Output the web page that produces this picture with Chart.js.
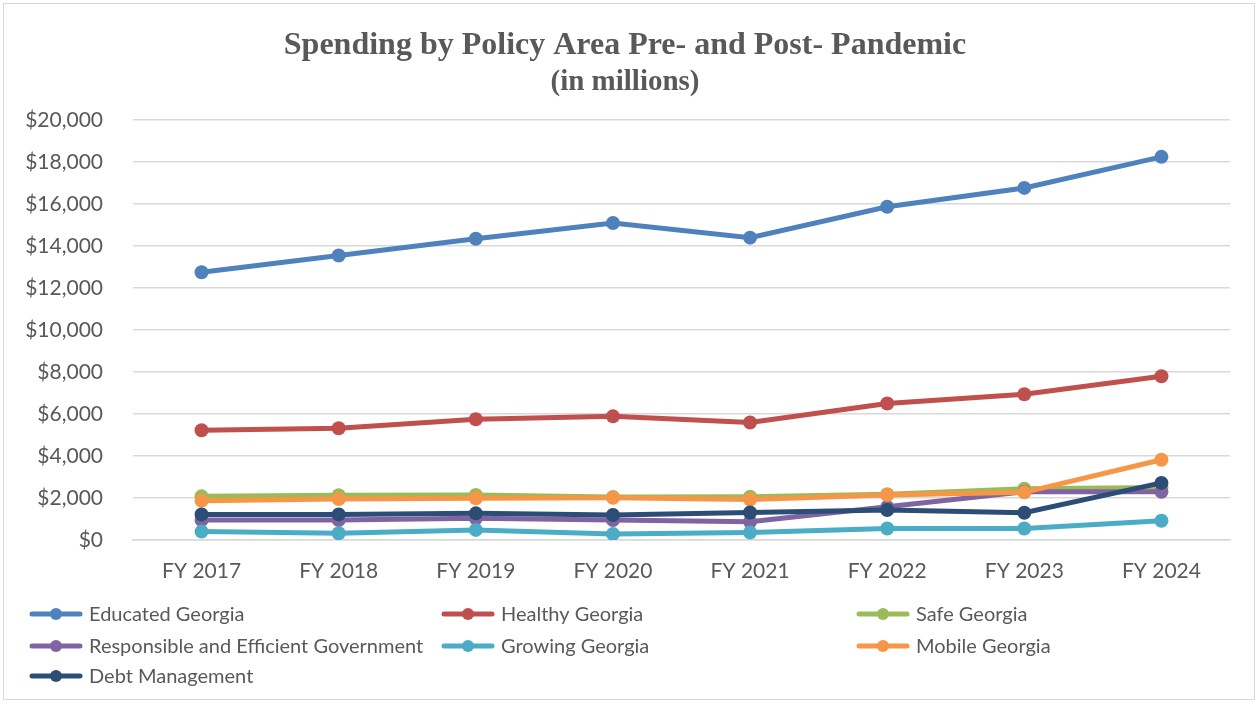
<!DOCTYPE html>
<html>
<head>
<meta charset="utf-8">
<script src="https://cdn.jsdelivr.net/npm/chart.js@4/dist/chart.umd.min.js"></script>
<style>
  body { margin: 0; background: #ffffff; }
  #wrap { position: relative; width: 1259px; height: 704px; }
  #frame { position: absolute; left: 3px; top: 3px; width: 1250px; height: 695px; border: 1px solid #d9d9d9; }
  canvas { position: absolute; left: 0; top: 0; }
</style>
</head>
<body>
<div id="wrap">
  <div id="frame"></div>
  <canvas id="chart" width="1259" height="704"></canvas>
</div>
<script>
// Categorias (anos fiscais)
const years = ['FY 2017', 'FY 2018', 'FY 2019', 'FY 2020', 'FY 2021', 'FY 2022', 'FY 2023', 'FY 2024'];

// Valores em milhões
const educated    = [12750, 13550, 14350, 15100, 14400, 15870, 16770, 18250];
const healthy     = [5230, 5320, 5750, 5890, 5600, 6500, 6940, 7800];
const safe        = [2080, 2130, 2140, 2050, 2060, 2180, 2440, 2500];
const responsible = [950, 950, 1030, 950, 870, 1580, 2300, 2300];
const growing     = [400, 320, 480, 290, 360, 550, 550, 920];
const mobile      = [1870, 1950, 1990, 2010, 1930, 2140, 2270, 3820];
const debt        = [1220, 1220, 1270, 1190, 1310, 1430, 1300, 2720];

// Ticks do eixo Y
const yMin = 0;
const yMax = 20000;
const yStep = 2000;

const names = ['Educated Georgia', 'Healthy Georgia', 'Safe Georgia',
  'Responsible and Efficient Government', 'Growing Georgia', 'Mobile Georgia', 'Debt Management'];
const series = [educated, healthy, safe, responsible, growing, mobile, debt];
const colors = ['#4f81bd', '#c0504d', '#9bbb59', '#8064a2', '#4bacc6', '#f79646', '#2c4d75'];

const FONT = 'Lato, "Open Sans", sans-serif';
const TEXT = '#595959';

// Montar datasets (séries posteriores desenhadas por cima, como no Excel)
const datasets = series.map((data, i) => ({
  label: names[i],
  data: data,
  borderColor: colors[i],
  backgroundColor: colors[i],
  borderWidth: 5,
  pointRadius: 7,
  pointHoverRadius: 7,
  pointBorderWidth: 0,
  tension: 0,
  order: series.length - i
}));

// Legenda em grade de três colunas
const gridLegend = {
  id: 'gridLegend',
  afterDraw(chart) {
    const ctx = chart.ctx;
    const colX = [30, 442, 857];
    const rowY = [614, 646, 676];
    ctx.save();
    ctx.font = '20px ' + FONT;
    ctx.textBaseline = 'middle';
    chart.data.datasets.forEach((ds, i) => {
      const x = colX[i % 3];
      const y = rowY[Math.floor(i / 3)];
      ctx.strokeStyle = ds.borderColor;
      ctx.lineWidth = 5;
      ctx.lineCap = 'round';
      ctx.beginPath();
      ctx.moveTo(x + 2, y);
      ctx.lineTo(x + 50, y);
      ctx.stroke();
      ctx.fillStyle = ds.borderColor;
      ctx.beginPath();
      ctx.arc(x + 26, y, 6, 0, Math.PI * 2);
      ctx.fill();
      ctx.fillStyle = TEXT;
      ctx.fillText(ds.label, x + 59, y + 1);
    });
    ctx.restore();
  }
};

new Chart(document.getElementById('chart'), {
  type: 'line',
  data: { labels: years, datasets: datasets },
  options: {
    responsive: false,
    animation: false,
    layout: { padding: { left: 20, right: 29, top: 0, bottom: 114 } },
    plugins: {
      legend: { display: false },
      tooltip: { enabled: false },
      title: {
        display: true,
        text: 'Spending by Policy Area Pre- and Post- Pandemic',
        color: TEXT,
        font: { family: '"Liberation Serif", "Times New Roman", serif', size: 32, weight: 'bold', lineHeight: 1.1 },
        padding: { top: 28, bottom: 0 }
      },
      subtitle: {
        display: true,
        text: '(in millions)',
        color: TEXT,
        font: { family: '"Liberation Serif", "Times New Roman", serif', size: 29, weight: 'bold', lineHeight: 1.1 },
        padding: { top: 3, bottom: 22 }
      }
    },
    scales: {
      x: {
        offset: true,
        grid: { display: false, drawTicks: false },
        border: { display: true, color: '#d9d9d9', width: 1.5 },
        ticks: { color: TEXT, font: { family: FONT, size: 21 }, padding: 19 },
        afterFit(scale) { scale.height = 50; }
      },
      y: {
        min: yMin,
        max: yMax,
        grid: { color: '#d9d9d9', lineWidth: 1.5, drawTicks: false },
        border: { display: false },
        ticks: {
          stepSize: yStep,
          color: TEXT,
          font: { family: FONT, size: 21 },
          padding: 30,
          callback: v => '$' + v.toLocaleString('en-US')
        },
        afterFit(scale) { scale.width = 113; }
      }
    }
  },
  plugins: [gridLegend]
});
</script>
</body>
</html>
